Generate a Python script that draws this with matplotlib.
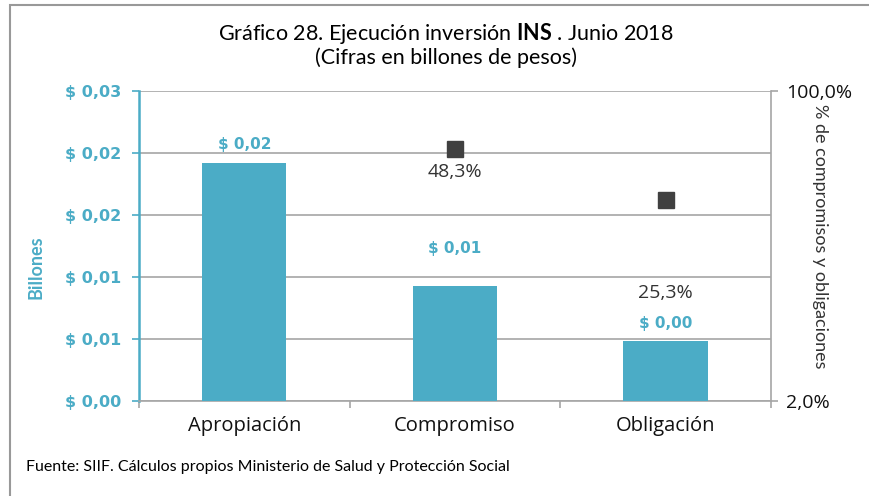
import numpy as np
import matplotlib
matplotlib.use("Agg")
import matplotlib.pyplot as plt
from matplotlib.patches import Rectangle

plt.rcParams["mathtext.fontset"] = "custom"
plt.rcParams["mathtext.rm"] = "Lato"
plt.rcParams["mathtext.bf"] = "Lato:bold"

# ── data ──────────────────────────────────────────────────────────────────────
categories = ["Apropiación", "Compromiso", "Obligación"]
billones = [0.0192, 0.0093, 0.0048]
bar_labels = ["$ 0,02", "$ 0,01", "$ 0,00"]
pct_cats = [1, 2]                            # Compromiso, Obligación
pct_values = [48.3, 25.3]
pct_labels = ["48,3%", "25,3%"]

left_ticks = [0.0, 0.005, 0.010, 0.015, 0.020, 0.025]
left_tick_labels = ["$ 0,00", "$ 0,01", "$ 0,01", "$ 0,02", "$ 0,02", "$ 0,03"]

TEAL = "#4BACC6"
DARK = "#404040"
GRID = "#A6A6A6"

fig = plt.figure(figsize=(8.69, 4.96), dpi=100)
ax = fig.add_axes([0.16, 0.1915, 0.727, 0.625])

x = np.arange(len(categories))
ax.bar(x, billones, width=0.4, color=TEAL, zorder=3)

ax.set_xlim(-0.5, 2.5)
ax.set_ylim(0, 0.025)
ax.set_yticks(left_ticks)
ax.set_yticklabels(left_tick_labels)
ax.tick_params(axis="y", colors=TEAL, labelsize=11.5, length=5, width=1.2, pad=8)
for lbl in ax.get_yticklabels():
    lbl.set_fontweight("bold")
    lbl.set_family("DejaVu Sans")
ax.yaxis.grid(True, color=GRID, linewidth=1.2, zorder=0)
ax.set_axisbelow(True)

ax.set_xticks(x)
ax.set_xticklabels(categories, fontsize=14.5, family="Open Sans", color="#111111")
ax.tick_params(axis="x", length=0, pad=11)
ax.set_xticks([-0.5, 0.5, 1.5, 2.5], minor=True)
ax.tick_params(axis="x", which="minor", length=5, color=GRID, width=1.2)

ax.spines["left"].set_color(TEAL)
ax.spines["left"].set_linewidth(1.8)
ax.spines["bottom"].set_color(GRID)
ax.spines["bottom"].set_linewidth(1.2)
ax.spines["top"].set_visible(False)
ax.spines["right"].set_visible(False)

ax.set_ylabel("Billones", color=TEAL, fontsize=13, fontweight="bold", family="Lato")
ax.yaxis.set_label_coords(-0.149, 0.432)

offsets = [13, 27, 13]
for xi, v, lab, off in zip(x, billones, bar_labels, offsets):
    ax.annotate(lab, (xi, v), xytext=(0, off), textcoords="offset points",
                ha="center", va="center", color=TEAL, fontsize=11,
                fontweight="bold", family="DejaVu Sans")

# ── right axis: percentage (log) ─────────────────────────────────────────────
ax2 = ax.twinx()
ax2.set_yscale("log")
ax2.set_ylim(2.0, 100.0)
ax2.set_yticks([2.0, 100.0])
ax2.set_yticklabels(["2,0%", "100,0%"])
ax2.yaxis.set_minor_locator(matplotlib.ticker.NullLocator())
ax2.tick_params(axis="y", labelsize=14, length=5, color=GRID, width=1.2,
                labelcolor="#111111", pad=6)
for lbl in ax2.get_yticklabels():
    lbl.set_family("Open Sans")
for s in ["left", "top", "bottom"]:
    ax2.spines[s].set_visible(False)
ax2.spines["right"].set_color(GRID)
ax2.spines["right"].set_linewidth(1.2)
ax2.set_ylabel("% de compromisos y obligaciones", rotation=270, fontsize=13,
               family="Lato", color="#333333", va="center")
ax2.yaxis.set_label_coords(1.078, 0.532)

ax2.plot(pct_cats, pct_values, linestyle="none", marker="s", markersize=11,
         color=DARK, zorder=5)
pct_offsets = [-17, -67]
for xi, v, lab, off in zip(pct_cats, pct_values, pct_labels, pct_offsets):
    ax2.annotate(lab, (xi, v), xytext=(0, off), textcoords="offset points",
                 ha="center", va="center", color="#333333", fontsize=14,
                 family="Open Sans")

# ── titles and frame ─────────────────────────────────────────────────────────
fig.text(0.513, 0.933, "Gráfico 28. Ejecución inversión $\\mathbf{INS}$ . Junio 2018",
         ha="center", va="center", fontsize=15.5, family="Lato")
fig.text(0.513, 0.883, "(Cifras en billones de pesos)", ha="center", va="center",
         fontsize=15.5, family="Lato")
fig.text(0.03, 0.058, "Fuente: SIIF. Cálculos propios Ministerio de Salud y Protección Social",
         ha="left", va="center", fontsize=11.5, family="Lato")

fig.patches.append(Rectangle((0.0115, -0.1), 1.2, 1.09, transform=fig.transFigure,
                             fill=False, edgecolor="#999999", linewidth=1.5))

fig.savefig("out.png", dpi=100)
